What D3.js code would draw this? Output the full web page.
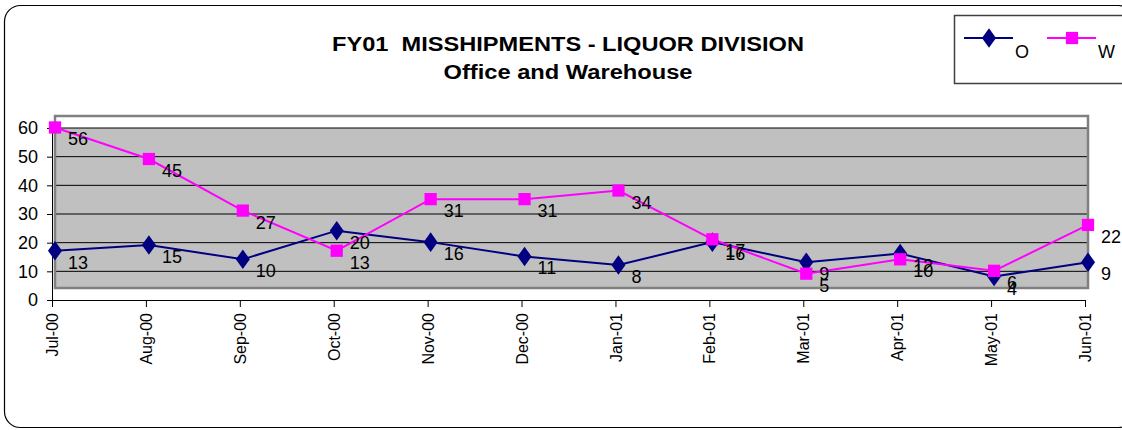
<!DOCTYPE html>
<html>
<head>
<meta charset="utf-8">
<script src="https://cdn.jsdelivr.net/npm/d3@7"></script>
<style>
  body { margin: 0; background: #fff; }
  text { font-family: "Liberation Sans", Arial, sans-serif; }
</style>
</head>
<body>
<div id="chart"></div>
<script>
// data
var months = ["Jul-00", "Aug-00", "Sep-00", "Oct-00", "Nov-00", "Dec-00",
              "Jan-01", "Feb-01", "Mar-01", "Apr-01", "May-01", "Jun-01"];
var office = [13, 15, 10, 20, 16, 11, 8, 16, 9, 12, 4, 9];
var warehouse = [56, 45, 27, 13, 31, 31, 34, 17, 5, 10, 6, 22];
var yTicks = [0, 10, 20, 30, 40, 50, 60];

var W = 1122, H = 430;
// 3d depth shift of the back wall
var depthX = 3, depthY = -12;

var svg = d3.select("#chart")
    .append("svg")
    .attr("width", W)
    .attr("height", H);

// chart outer frame
svg.append("rect")
    .attr("x", 4.5).attr("y", 5.5)
    .attr("width", 1130).attr("height", 422)
    .attr("rx", 16)
    .attr("fill", "#fff")
    .attr("stroke", "#000")
    .attr("stroke-width", 1.2);

var xScale = d3.scalePoint()
    .domain(months)
    .range([52, 1085]);

var yScale = d3.scaleLinear()
    .domain([0, 60])
    .range([300, 128]);

// back wall
var wallL = xScale(months[0]) + depthX, wallR = xScale(months[11]) + depthX;
svg.append("rect")
    .attr("x", wallL).attr("y", yScale(60) + depthY)
    .attr("width", wallR - wallL)
    .attr("height", yScale(0) - yScale(60))
    .attr("fill", "#fff");
svg.append("rect")
    .attr("x", wallL).attr("y", yScale(60))
    .attr("width", wallR - wallL)
    .attr("height", yScale(0) + depthY - yScale(60))
    .attr("fill", "#c0c0c0");

// gridlines
svg.append("g")
    .selectAll("line")
    .data(yTicks.filter(function (d) { return d > 0; }))
    .enter()
    .append("line")
    .attr("x1", wallL).attr("x2", wallR)
    .attr("y1", function (d) { return yScale(d); })
    .attr("y2", function (d) { return yScale(d); })
    .attr("stroke", "#000")
    .attr("stroke-width", 1);

svg.append("rect")
    .attr("x", wallL).attr("y", yScale(60) + depthY)
    .attr("width", wallR - wallL)
    .attr("height", yScale(0) - yScale(60))
    .attr("fill", "none")
    .attr("stroke", "#808080")
    .attr("stroke-width", 2.5);

// y axis
var yAxis = svg.append("g")
    .attr("transform", "translate(" + xScale(months[0]) + ",0)")
    .call(d3.axisLeft(yScale).tickValues(yTicks).tickSize(5).tickPadding(9));
yAxis.select(".domain").attr("stroke", "#000");
yAxis.selectAll("text")
    .attr("font-size", 18)
    .attr("fill", "#000");

// x axis
var xAxis = svg.append("g")
    .attr("transform", "translate(0," + yScale(0) + ")")
    .call(d3.axisBottom(xScale).tickSize(7).tickSizeOuter(0));
xAxis.select(".domain").attr("stroke", "#000");
xAxis.selectAll("text")
    .attr("font-size", 16)
    .attr("fill", "#000")
    .style("text-anchor", "end")
    .attr("dx", "0")
    .attr("dy", "0.35em")
    .attr("x", -13)
    .attr("y", 0)
    .attr("transform", "rotate(-90)");

// series
var series = [
    { name: "O", values: office, color: "#000080", shape: d3.symbolDiamond, size: 110 },
    { name: "W", values: warehouse, color: "#ff00ff", shape: d3.symbolSquare, size: 150 }
];

var px = function (i) { return xScale(months[i]) + depthX; };
var py = function (v) { return yScale(v) + depthY; };

var line = d3.line()
    .x(function (d, i) { return px(i); })
    .y(function (d) { return py(d); });

series.forEach(function (s) {
    svg.append("path")
        .datum(s.values)
        .attr("d", line)
        .attr("fill", "none")
        .attr("stroke", s.color)
        .attr("stroke-width", 2);
});

series.forEach(function (s) {
    svg.append("g")
        .selectAll("path")
        .data(s.values)
        .enter()
        .append("path")
        .attr("d", d3.symbol().type(s.shape).size(s.size))
        .attr("transform", function (d, i) {
            var r = s.shape === d3.symbolDiamond ? " scale(1.25,1)" : "";
            return "translate(" + px(i) + "," + py(d) + ")" + r;
        })
        .attr("fill", s.color);
});

series.forEach(function (s) {
    svg.append("g")
        .selectAll("text")
        .data(s.values)
        .enter()
        .append("text")
        .attr("x", function (d, i) { return px(i) + 13; })
        .attr("y", function (d) { return py(d) + 18; })
        .attr("font-size", 18)
        .attr("fill", "#000")
        .text(function (d) { return d; });
});

// titles
svg.append("text")
    .attr("x", 568).attr("y", 51)
    .attr("text-anchor", "middle")
    .attr("font-size", 21)
    .attr("font-weight", "bold")
    .attr("xml:space", "preserve")
    .attr("textLength", 472)
    .attr("lengthAdjust", "spacingAndGlyphs")
    .text("FY01  MISSHIPMENTS - LIQUOR DIVISION");
svg.append("text")
    .attr("x", 568).attr("y", 79)
    .attr("text-anchor", "middle")
    .attr("font-size", 20)
    .attr("font-weight", "bold")
    .attr("textLength", 249)
    .attr("lengthAdjust", "spacingAndGlyphs")
    .text("Office and Warehouse");

// legend
var legend = svg.append("g");
legend.append("rect")
    .attr("x", 954.5).attr("y", 15.5)
    .attr("width", 200).attr("height", 68)
    .attr("fill", "#fff")
    .attr("stroke", "#404040")
    .attr("stroke-width", 1.5);

series.forEach(function (s, k) {
    var lx = 964 + k * 83;
    legend.append("line")
        .attr("x1", lx).attr("x2", lx + 49)
        .attr("y1", 38).attr("y2", 38)
        .attr("stroke", s.color)
        .attr("stroke-width", 2);
    legend.append("path")
        .attr("d", d3.symbol().type(s.shape).size(s.size))
        .attr("transform", "translate(" + (lx + 25) + ",38)" + (s.shape === d3.symbolDiamond ? " scale(1.25,1)" : ""))
        .attr("fill", s.color);
    legend.append("text")
        .attr("x", lx + 51).attr("y", 58)
        .attr("font-size", 18)
        .attr("fill", "#000")
        .text(s.name);
});
</script>
</body>
</html>
